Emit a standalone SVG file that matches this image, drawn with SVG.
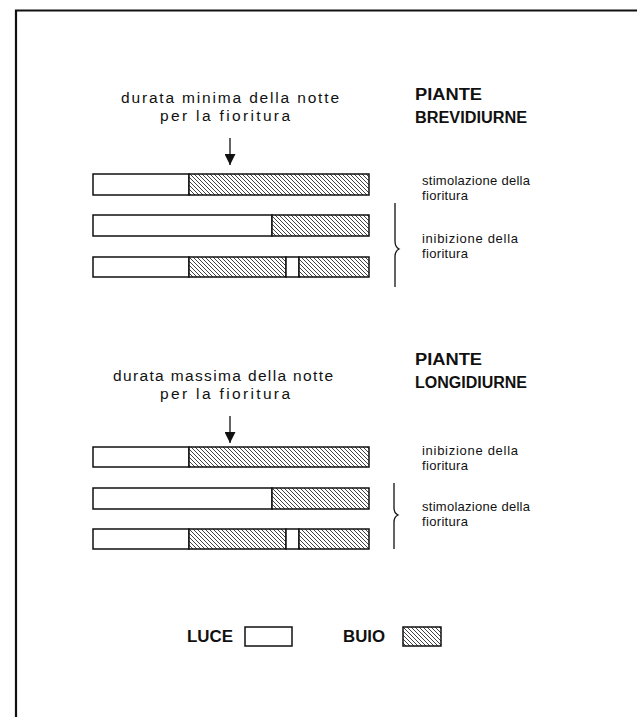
<svg xmlns="http://www.w3.org/2000/svg" width="637" height="717" viewBox="0 0 637 717">
<style>
.t{font-family:"Liberation Sans",Arial,sans-serif;font-size:15.5px;fill:#111}
.r{font-family:"Liberation Sans",Arial,sans-serif;font-size:13px;fill:#111}
.b{font-family:"Liberation Sans",Arial,sans-serif;font-size:16px;font-weight:bold;fill:#111}
.light{fill:#fff;stroke:#111;stroke-width:1.5}
.dark{fill:url(#hatch);stroke:#111;stroke-width:1.5}
.ln{fill:none;stroke:#111;stroke-width:1.3}
</style>
<defs>
<pattern id="hatch" patternUnits="userSpaceOnUse" width="4" height="4">
<rect width="4" height="4" fill="#fff"/>
<path d="M0,0 L4,4 M-1,3 L1,5 M3,-1 L5,1" stroke="#111" stroke-width="0.8"/>
</pattern>
<marker id="ah" viewBox="0 0 10 10" refX="10" refY="5" markerWidth="11" markerHeight="11" markerUnits="userSpaceOnUse" orient="auto">
<path d="M0,0 L10,5 L0,10 z" fill="#111"/>
</marker>
</defs>
<rect width="637" height="717" fill="#fff"/>
<g id="frame">
<path d="M637,10.5 L16,10.5 L16,717" fill="none" stroke="#111" stroke-width="2.2"/>
</g>

<g id="brevidiurne">
<g id="title-brevi">
<text class="b" x="415" y="100" textLength="67" lengthAdjust="spacingAndGlyphs">PIANTE</text>
<text class="b" x="415" y="123" textLength="112" lengthAdjust="spacingAndGlyphs">BREVIDIURNE</text>
</g>
<g id="label-min">
<text class="t" x="230" y="103" text-anchor="middle" textLength="218" lengthAdjust="spacing">durata minima della notte</text>
<text class="t" x="225" y="121" text-anchor="middle" textLength="130" lengthAdjust="spacing">per la fioritura</text>
</g>
<g id="bar-b1">
<rect class="light" x="93" y="174" width="96" height="21"/>
<rect class="dark" x="189" y="174" width="180" height="21"/>
</g>
<g id="bar-b2">
<rect class="light" x="93" y="215" width="179" height="21"/>
<rect class="dark" x="272" y="215" width="97" height="21"/>
</g>
<g id="bar-b3">
<rect class="light" x="93" y="257" width="96" height="20"/>
<rect class="dark" x="189" y="257" width="97" height="20"/>
<rect class="light" x="286" y="257" width="13" height="20"/>
<rect class="dark" x="299" y="257" width="70" height="20"/>
</g>
<g id="text-b1">
<text class="r" x="422" y="185" textLength="108" lengthAdjust="spacing">stimolazione della</text>
<text class="r" x="422" y="200" textLength="46" lengthAdjust="spacing">fioritura</text>
</g>
<g id="text-b2">
<text class="r" x="422" y="243" textLength="96" lengthAdjust="spacing">inibizione della</text>
<text class="r" x="422" y="258" textLength="46" lengthAdjust="spacing">fioritura</text>
</g>
</g>

<g id="longidiurne">
<g id="title-longi">
<text class="b" x="415" y="365" textLength="67" lengthAdjust="spacingAndGlyphs">PIANTE</text>
<text class="b" x="415" y="388" textLength="112" lengthAdjust="spacingAndGlyphs">LONGIDIURNE</text>
</g>
<g id="label-max">
<text class="t" x="223" y="381" text-anchor="middle" textLength="220" lengthAdjust="spacing">durata massima della notte</text>
<text class="t" x="225" y="399" text-anchor="middle" textLength="130" lengthAdjust="spacing">per la fioritura</text>
</g>
<g id="bar-l1">
<rect class="light" x="93" y="447" width="96" height="20"/>
<rect class="dark" x="189" y="447" width="180" height="20"/>
</g>
<g id="bar-l2">
<rect class="light" x="93" y="488" width="179" height="21"/>
<rect class="dark" x="272" y="488" width="97" height="21"/>
</g>
<g id="bar-l3">
<rect class="light" x="93" y="529" width="96" height="20"/>
<rect class="dark" x="189" y="529" width="97" height="20"/>
<rect class="light" x="286" y="529" width="13" height="20"/>
<rect class="dark" x="299" y="529" width="70" height="20"/>
</g>
<g id="text-l1">
<text class="r" x="422" y="455" textLength="96" lengthAdjust="spacing">inibizione della</text>
<text class="r" x="422" y="470" textLength="46" lengthAdjust="spacing">fioritura</text>
</g>
<g id="text-l2">
<text class="r" x="422" y="511" textLength="108" lengthAdjust="spacing">stimolazione della</text>
<text class="r" x="422" y="526" textLength="46" lengthAdjust="spacing">fioritura</text>
</g>
</g>

<g id="legend">
<g id="legend-luce">
<text class="b" x="187" y="642" textLength="46" lengthAdjust="spacingAndGlyphs">LUCE</text>
<rect class="light" x="245" y="627" width="47" height="19"/>
</g>
<g id="legend-buio">
<text class="b" x="343" y="642" textLength="42" lengthAdjust="spacingAndGlyphs">BUIO</text>
<rect class="dark" x="403" y="627" width="38" height="19"/>
</g>
</g>

<g id="connectors">
<line class="ln" x1="230" y1="138" x2="230" y2="165" marker-end="url(#ah)"/>
<line class="ln" x1="230" y1="416" x2="230" y2="443" marker-end="url(#ah)"/>
<path class="ln" d="M395,203 L395,241 Q395,247 399,249 Q395,251 395,257 L395,287"/>
<path class="ln" d="M394,483 L394,508 Q394,513 398,515 Q394,517 394,522 L394,549"/>
</g>
</svg>
